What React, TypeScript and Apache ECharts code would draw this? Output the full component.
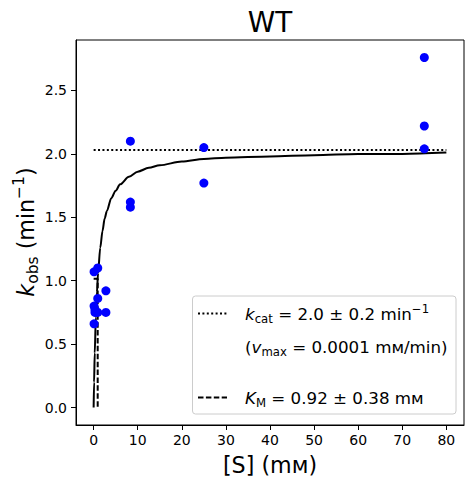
import React, { useEffect, useRef } from "react";
import * as echarts from "echarts";

// Observed rate constants (k_obs, min^-1) vs substrate concentration [S] (mM)
const obsX = [0.1, 0.1, 0.1, 0.31, 0.31, 0.93, 0.93, 0.93, 2.78, 2.78, 8.33, 8.33, 8.33, 25, 25, 75, 75, 75];
const obsY = [1.07, 0.80, 0.66, 0.77, 0.75, 1.10, 0.86, 0.75, 0.92, 0.75, 2.10, 1.62, 1.58, 2.05, 1.77, 2.76, 2.22, 2.04];

// Fitted Michaelis–Menten curve
const curveX = [0, 0.1, 0.25, 0.5, 0.75, 1, 1.5, 2, 2.5, 3, 4, 5, 6, 8, 10, 12.5, 15, 20, 25, 30, 40, 50, 60, 70, 80];
const curveY = [0, 0.2, 0.43, 0.71, 0.91, 1.06, 1.26, 1.39, 1.49, 1.55, 1.65, 1.71, 1.76, 1.82, 1.86, 1.89, 1.91, 1.94, 1.96, 1.97, 1.98, 1.99, 2.0, 2.0, 2.01];

// k_cat plateau (dotted) and K_M guide (dashed)
const kcatX = [0, 80];
const kcatY = [2.03, 2.03];
const kmX = [0, 0.92, 0.92];
const kmY = [1.015, 1.015, 0];

// Tick labels
const xTicks = [0, 10, 20, 30, 40, 50, 60, 70, 80];
const yTicks = [0, 0.5, 1.0, 1.5, 2.0, 2.5];

const FONT = "DejaVu Sans";

const zip = (xs: number[], ys: number[]) => xs.map((x, i) => [x, ys[i]]);

export default function App() {
  const ref = useRef<HTMLDivElement>(null);
  useEffect(() => {
    if (!ref.current) return;
    const chart = echarts.init(ref.current, null, { renderer: "svg" });
    const legendRich = {
      n: { fontFamily: FONT, fontSize: 16.7, lineHeight: 22 },
      i: { fontFamily: FONT, fontStyle: "italic", fontSize: 16.7, lineHeight: 22 },
      sub: { fontFamily: FONT, fontSize: 11.7, verticalAlign: "bottom", lineHeight: 12 },
      sup: { fontFamily: FONT, fontSize: 11.7, verticalAlign: "top", lineHeight: 12 },
    };
    const legendText = (x: number, y: number, text: string) => ({
      type: "text",
      x,
      y,
      z: 11,
      style: {
        text,
        fontFamily: FONT,
        fontSize: 16.7,
        lineHeight: 22,
        fill: "#000",
        align: "left",
        verticalAlign: "middle",
        rich: legendRich,
      },
    });
    chart.setOption({
      animation: false,
      backgroundColor: "#fff",
      grid: {
        left: 76,
        top: 40,
        width: 388,
        height: 385,
        show: true,
        borderColor: "#000",
        borderWidth: 1,
        backgroundColor: "transparent",
      },
      xAxis: {
        type: "value",
        min: -4,
        max: 84,
        axisLine: { show: true, onZero: false, lineStyle: { color: "#000", width: 1 } },
        axisTick: { show: true, inside: false, length: 5, customValues: xTicks, lineStyle: { color: "#000" } },
        axisLabel: {
          customValues: xTicks,
          margin: 8,
          fontFamily: FONT,
          fontSize: 14,
          color: "#000",
          formatter: (v: number) => String(Math.round(v)),
        },
        splitLine: { show: false },
      },
      yAxis: {
        type: "value",
        min: -0.138,
        max: 2.898,
        axisLine: { show: true, onZero: false, lineStyle: { color: "#000", width: 1 } },
        axisTick: { show: true, inside: false, length: 5, customValues: yTicks, lineStyle: { color: "#000" } },
        axisLabel: {
          customValues: yTicks,
          margin: 9,
          fontFamily: FONT,
          fontSize: 14,
          color: "#000",
          formatter: (v: number) => v.toFixed(1),
        },
        splitLine: { show: false },
      },
      series: [
        {
          type: "line",
          name: "km",
          data: zip(kmX, kmY),
          showSymbol: false,
          lineStyle: { color: "#000", width: 2, type: [5.5, 2.4] },
          z: 2,
        },
        {
          type: "line",
          name: "kcat",
          data: zip(kcatX, kcatY),
          showSymbol: false,
          lineStyle: { color: "#000", width: 2, type: [2, 2.4] },
          z: 2,
        },
        {
          type: "line",
          name: "fit",
          data: zip(curveX, curveY),
          showSymbol: false,
          smooth: 0.3,
          smoothMonotone: "x",
          lineStyle: { color: "#000", width: 2 },
          z: 3,
        },
        {
          type: "scatter",
          name: "obs",
          data: zip(obsX, obsY),
          symbol: "circle",
          symbolSize: 9,
          itemStyle: { color: "#0000ff", opacity: 1 },
          z: 4,
        },
      ],
      graphic: [
        {
          type: "text",
          x: 270,
          y: 22,
          style: { text: "WT", fontFamily: FONT, fontSize: 27.8, fill: "#000", align: "center", verticalAlign: "middle" },
        },
        {
          type: "text",
          x: 270,
          y: 465,
          style: { text: "[S] (mᴍ)", fontFamily: FONT, fontSize: 22.2, fill: "#000", align: "center", verticalAlign: "middle" },
        },
        {
          type: "text",
          x: 26,
          y: 232,
          rotation: Math.PI / 2,
          style: {
            text: "{i|k}{sub|obs}{n| (min}{sup|−1}{n|)}",
            fontFamily: FONT,
            fontSize: 22.2,
            lineHeight: 30,
            fill: "#000",
            align: "center",
            verticalAlign: "middle",
            rich: {
              n: { fontFamily: FONT, fontSize: 22.2, lineHeight: 30 },
              i: { fontFamily: FONT, fontStyle: "italic", fontSize: 22.2, lineHeight: 30 },
              sub: { fontFamily: FONT, fontSize: 15.5, verticalAlign: "bottom", lineHeight: 17 },
              sup: { fontFamily: FONT, fontSize: 15.5, verticalAlign: "top", lineHeight: 17 },
            },
          },
        },
        {
          type: "rect",
          shape: { x: 192.5, y: 296, width: 263.5, height: 118, r: 3 },
          style: { fill: "rgba(255,255,255,0.8)", stroke: "#cccccc", lineWidth: 1 },
          z: 10,
        },
        {
          type: "line",
          shape: { x1: 198, y1: 313.5, x2: 227, y2: 313.5 },
          style: { stroke: "#000", lineWidth: 2, lineDash: [2, 2.4] },
          z: 11,
        },
        {
          type: "line",
          shape: { x1: 198, y1: 397.5, x2: 227, y2: 397.5 },
          style: { stroke: "#000", lineWidth: 2, lineDash: [5.5, 2.4] },
          z: 11,
        },
        legendText(245, 314, "{i|k}{sub|cat}{n| = 2.0 ± 0.2 min}{sup|−1}"),
        legendText(245, 347, "{n|(}{i|v}{sub|max}{n| = 0.0001 mᴍ/min)}"),
        legendText(245, 398, "{i|K}{sub|M}{n| = 0.92 ± 0.38 mᴍ}"),
      ],
    });
    return () => chart.dispose();
  }, []);
  return (
    <div
      ref={ref}
      style={{ position: "absolute", left: 0, top: 0, width: 473, height: 484 }}
    />
  );
}
